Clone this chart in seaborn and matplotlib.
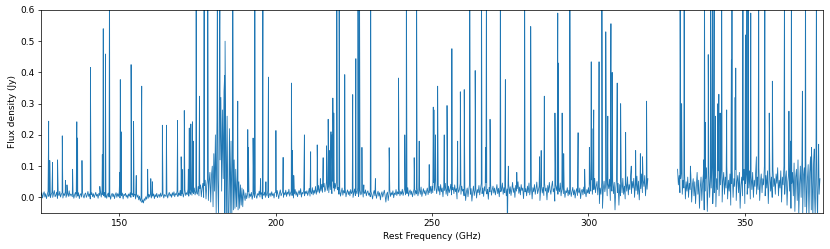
import numpy as np
import pandas as pd
import seaborn as sns
import matplotlib
matplotlib.use('Agg')
import matplotlib.pyplot as plt

# Continuum / noise, in mJy, one value per 0.25 GHz channel
step = 0.25
lo_start = 125.0   # lower band: 125.0 .. 319.0 GHz
hi_start = 328.5   # upper band: 328.5 .. 374.0 GHz

base_lo_mjy = [
    6, 15, -2, 10, 18, 1, 12, -4, 8, 20, 3, 14, -1, 9, 16, 0, 11, 22, 2, 7, 17, -3, 13, 5, 19, 1, 10, 15, -2, 12, 6, 18, 0, 9, 14, 3, 21, 4, 11, 8,
    2, 13, -3, 9, 16, 0, 11, 4, 15, -4, 8, 12, 1, 17, 5, -2, 10, 14, 0, 7, 19, 3, 11, -5, 9, 15, 2, 12, -1, 8, 16, 4, 10, -3, 13, 6, 18, 1, 22, 9,
    5, 16, 0, 12, -3, 9, 14, 1, 10, -6, 7, 13, 2, 11, -4, 8, 15, 0, 12, 3, 17, -2, 9, 5, 14, -5, 10, 6, 13, 1, 8, -3, 11, 4, 15, 0, 9, 12, 2, 7,
    10, -5, 12, 0, 8, -8, 4, -12, -2, -16, -8, -18, -4, -10, 2, -6, 8, -3, 10, 1, 12, -2, 7, 4, 11, -4, 9, 2, 13, -1, 6, 10, 0, 14, 3, 8, 12, -2, 9, 5,
    3, 13, -2, 9, 16, 4, 11, 0, 15, 6, 18, 2, 12, 8, 20, 3, 14, 7, 22, 5, 11, 17, 1, 13, 24, 6, 15, 9, 26, 4, 18, 10, 28, 7, 16, 12, 30, 8, 20, 14,
    10, 35, 5, 28, 40, 2, 30, 45, 0, 38, 55, -5, 40, 60, -10, 50, 80, -15, 70, 100,
    -30, 140, 20, 200, -50, 250, 60, -60, 300, 120, 320, 20, 280, 60, 340, -70, 300, -80, 260, -60,
    -70, 220, -50, 180, -60, 150, -40, 120, -35, 90, -30, 70, -40, 50, -35, 40, -25, 30, -30, 25,
    5, -10, 14, -4, 9, 18, -2, 11, 3, 16, -6, 8, 13, 0, 19, 5, -3, 12, 7, 20, 1, 10, 15, -5, 11, 6, 17, 0, 13, 4, 21, -1, 9, 14, 3, 18, 6, 12, -2, 15,
    16, 2, 22, 8, -4, 14, 24, 5, 12, 19, 0, 15, 8, 23, 3, 17, 10, 26, 4, 13, 20, 6, 16, -2, 11, 25, 7, 18, 2, 14, 22, 9, 28, 1, 16, 11, 24, 5, 19, 12,
    21, 6, 16, 29, 4, 19, 11, 31, 8, 23, 13, 35, 10, 26, 17, 38, 14, 30, 20, 42, 16, 33, 45, 18, 28, 50, 22, 36, 15, 48, 25, 40, 12, 52, 30, 20, 45, 28, 55, 24,
    32, 10, 26, 4, 18, 30, 7, 22, 14, 28, 2, 16, 24, 9, 20, 5, 25, 12, 18, 0, 14, 27, 6, 21, 11, 30, 3, 17, 23, 8, 15, 26, 1, 19, 12, 24, 5, 16, 21, 7,
    14, 2, 19, 8, -5, 13, 22, 5, 16, -3, 11, 20, 4, 15, -8, 9, 18, 1, 13, 23, 6, -15, 10, 17, -10, 12, 24, 3, 15, 8, 21, -1, 14, 9, 25, 6, 18, 11, 27, 5,
    19, 10, 26, 6, 16, 29, 8, 21, 12, 31, 4, 17, 24, 9, 20, 2, 14, 27, 7, 22, 11, 30, 5, 18, 25, 10, 33, 3, 16, 28, 12, 22, 6, 19, 30, 9, 24, 15, 35, 12,
    36, 15, 48, 22, 58, 30, 12, 44, 20, 35, 8, 41, 18, 30, 2, 38, 22, 45, 10, 28, 5, 36, 15, 26, 42, 8, 24, 32, 12, 40, 18, 28, -5, 34, 16, 25, 44, 10, 36, 20,
    26, 5, 33, -10, 18, 30, 2, 24, 42, 10, 28, -12, 16, 36, 6, 22, 31, -2, 25, 15, 38, 8, 27, 45, 12, 30, 3, 34, 20, 48, 11, 26, -6, 32, 18, 40, 7, 24, 36, 14,
    30, 8, 23, 41, 12, 29, 2, 36, 18, 26, 46, 10, 31, 15, 39, 5, 27, 21, 43, 12, 34, 6, 25, 48, 16, 30, 0, 38, 20, 28, 50, 13, 33, 8, 41, 22, 30, -4, 36, 18,
    28, 5, 36, 15, 46, 8, 26, 39, -5, 31, 18, 41, 10, 27, 49, 12, 23, 36, -10, 26, 40, 14, 32, 6, 44, 20, 30, -8, 38, 16, 48, 24, 10, 35, 52, 18, 28, -12, 40, 22,
    41, 10, 31, 18, 46, 5, 26, 36, 12, 29, 0, 21, 15, 31, 5, 23, 10, 27, 3, 19, 32, 8, 24, -2, 18, 28, 6, 22, 14, 30, -4, 20, 26, 8, 33, 12, 18, 2, 25, 14,
    31, 12, 46, 20, 56, 10, 41, 25, 61, 15, 36, 51, 8, 41, -20, 30, 10, 46, -35, 25, 52, 18, 38, 62, 5, 44, 28, 58, -10, 40, 20, 55, 12, 48, -40, 30, 60, 15, 45, -25,
    41, 5, 51, 15, 61, 10, 36, -5, 46, 20, 66, 8, 41, 25, 71, 12, 51, 30, 61, 0, 45, 22, 68, 10, 52, -8, 40, 28, 75, 15, 55, 35, 70, 5, 48, 26, 60,
]

base_hi_mjy = [
    90, 40, 70, 15, 60, 85, 10, 55, 30, 75, -5, 50, 20, 65, 0, 45,
    25, 70, -15, 40, 60, 5, 50, -20, 35, 80, 10, 55, -35, 30, 65, -10, 45, 75, -40, 20, 60, 95, -45, 40, 85, 0, 70, 30, 100, -20, 55, 15, 90, -30, 60, 25, 85, 5, 70, 40,
    95, -15, 50, 80, 10, 65, 30, 100, -5, 55, 20, 75, -25, 45, 85, 0, 60, 35, 90, -10, 50, 70, 15, 80, -35, 40, 65, 5, 55, 90, -20, 45, 75, 10, 60, 30, 85, -5, 70, 25,
    80, 0, 55, 35, 90, 10, 65, 25, 95, -10, 50, 75, 15, 60, 40, 100, 5, 70, 30, 85, -20, 55, 80, 20, 65, 0, 90, 35, 60, 10, 75, 45, 95, 5, 55, 30, 85, -15, 65, 40,
    100, 10, 60, 85, -25, 50, 75, 20, 95, -35, 45, 80, 5, 110, -45, 65, 90, -10, 120, -55, 40, 100, 0, 115, -60, 70, 95, -30, 125, -50, 55, 105, -65, 80, 130, -40, 90, -70, 110, 20,
    -60, 120, 40, -75, 130, 10, 60,
]

# Emission lines: peak frequency (GHz) and peak flux (Jy); 0.8 means off the top
line_freq = [
    127.45, 127.8, 128.7, 130.3, 131.8, 132.8, 133.3, 135.1, 136.45, 136.7, 138.1, 140.8, 143.8, 144.6, 144.9, 145.6, 146.9,
    150.2, 150.35, 150.6, 153.8, 154.6, 155.45, 157.2, 159.1, 160.1, 160.6, 163.8, 165.1, 168.65, 169.8, 170.1, 170.8,
    172.1, 172.4, 172.9, 173.4, 173.7, 174.6, 175.65, 177.15, 178.3, 181.4, 182.2, 183.7, 183.85,
    186.3, 187.9, 191.1, 191.3, 192.8, 193.35, 195.2, 195.95, 196.9, 197.7, 200.1, 202.4, 205.05, 205.4, 205.8,
    209.2, 211.2, 213.3, 214.3, 215.2, 216.3, 216.8, 217.3, 217.7, 218.05, 218.3, 218.6, 219.55, 220.3, 222.1,
    224.65, 225.65, 226.35, 226.8, 227.6, 228.2, 230.4, 231.9, 236.3, 239.3, 241.3, 241.8, 244.3, 245.05, 245.9,
    249.1, 250.4, 250.6, 251.1, 251.8, 253.9, 254.8, 256.35, 258.2, 259.05, 260.3, 262.05, 263.8, 265.8, 267.1, 267.4,
    268.55, 271.85, 273.45, 274.1, 274.4, 277.1, 279.6, 281.55, 284.4, 284.9, 285.9, 289.3, 290.2, 290.4, 291.6, 292.1,
    294.05, 296.7, 298.8, 300.3, 300.9, 301.1, 301.7, 303.4, 304.3, 305.55, 306.2, 307.2, 307.6, 309.2, 310.3, 311.9,
    313.7, 315.1, 316.6, 317.3, 318.6,
    329.3, 329.8, 330.6, 332.6, 336.8, 337.1, 337.35, 338.3, 339.1, 339.7, 340.2, 340.6, 341.4, 341.7, 342.1, 342.6,
    344.2, 345.7, 345.9, 346.9, 347.1, 349.4, 350.2, 350.7, 351.1, 351.9, 353.7, 354.45, 356.4, 357.8, 358.8, 362.7,
    364.1, 364.6, 364.9, 368.4, 369.4, 371.3, 372.2, 372.9, 373.6,
]
line_flux = [
    0.244, 0.118, 0.112, 0.120, 0.197, 0.054, 0.040, 0.090, 0.242, 0.190, 0.118, 0.416, 0.035, 0.137, 0.540, 0.459, 0.800,
    0.080, 0.377, 0.210, 0.425, 0.243, 0.070, 0.356, 0.090, 0.060, 0.050, 0.231, 0.231, 0.246, 0.130, 0.090, 0.278,
    0.090, 0.222, 0.235, 0.242, 0.180, 0.800, 0.324, 0.800, 0.800, 0.800, 0.800, 0.390, 0.500,
    0.800, 0.308, 0.217, 0.160, 0.190, 0.800, 0.060, 0.800, 0.050, 0.385, 0.214, 0.128, 0.366, 0.150, 0.070,
    0.200, 0.146, 0.168, 0.060, 0.127, 0.165, 0.250, 0.150, 0.210, 0.200, 0.318, 0.270, 0.800, 0.800, 0.393,
    0.329, 0.444, 0.800, 0.800, 0.160, 0.040, 0.800, 0.060, 0.159, 0.382, 0.200, 0.800, 0.127, 0.800, 0.180,
    0.105, 0.289, 0.280, 0.200, 0.356, 0.200, 0.294, 0.476, 0.180, 0.338, 0.345, 0.800, 0.406, 0.800, 0.160, 0.800,
    0.250, 0.800, 0.377, -0.120, 0.100, 0.080, 0.800, 0.547, 0.130, 0.150, 0.324, 0.270, 0.590, 0.430, 0.270, 0.140,
    0.800, 0.207, 0.090, 0.160, 0.434, 0.220, 0.280, 0.434, 0.800, 0.530, 0.260, 0.556, 0.400, 0.366, 0.300, 0.208,
    0.100, 0.150, 0.140, 0.130, 0.308,
    0.800, 0.300, 0.800, 0.100, 0.120, 0.800, 0.240, 0.457, 0.800, 0.800, 0.800, 0.260, 0.300, 0.330, 0.270, 0.800,
    0.280, 0.440, 0.800, 0.320, 0.414, 0.800, 0.520, 0.800, 0.800, 0.590, 0.130, 0.800, 0.800, 0.270, 0.372, 0.800,
    0.276, 0.180, 0.800, 0.340, 0.800, 0.160, 0.155, 0.800, 0.170,
]

assert len(base_lo_mjy) == 777 and len(base_hi_mjy) == 183, (len(base_lo_mjy), len(base_hi_mjy))
assert len(line_freq) == len(line_flux), (len(line_freq), len(line_flux))

lo_freq = lo_start + step * np.arange(len(base_lo_mjy))
hi_freq = hi_start + step * np.arange(len(base_hi_mjy))

df = pd.DataFrame({
    'freq': np.concatenate([lo_freq, hi_freq, line_freq]),
    'flux': np.concatenate([np.array(base_lo_mjy) / 1000, np.array(base_hi_mjy) / 1000, line_flux]),
})
df['band'] = np.where(df['freq'] < 324, 'low', 'high')
df = df.sort_values('freq')

fig = plt.figure(figsize=(830 / 65, 249 / 65), dpi=65)
ax = fig.add_axes([0.0494, 0.1446, 0.9422, 0.8154])
sns.lineplot(data=df, x='freq', y='flux', units='band', estimator=None,
             color='#1f77b4', linewidth=0.9, ax=ax)
ax.set_xlim(125, 375)
ax.set_ylim(-0.05, 0.6)
ax.set_xlabel('Rest Frequency (GHz)')
ax.set_ylabel('Flux density (Jy)')
fig.savefig('out.png', dpi=65)
